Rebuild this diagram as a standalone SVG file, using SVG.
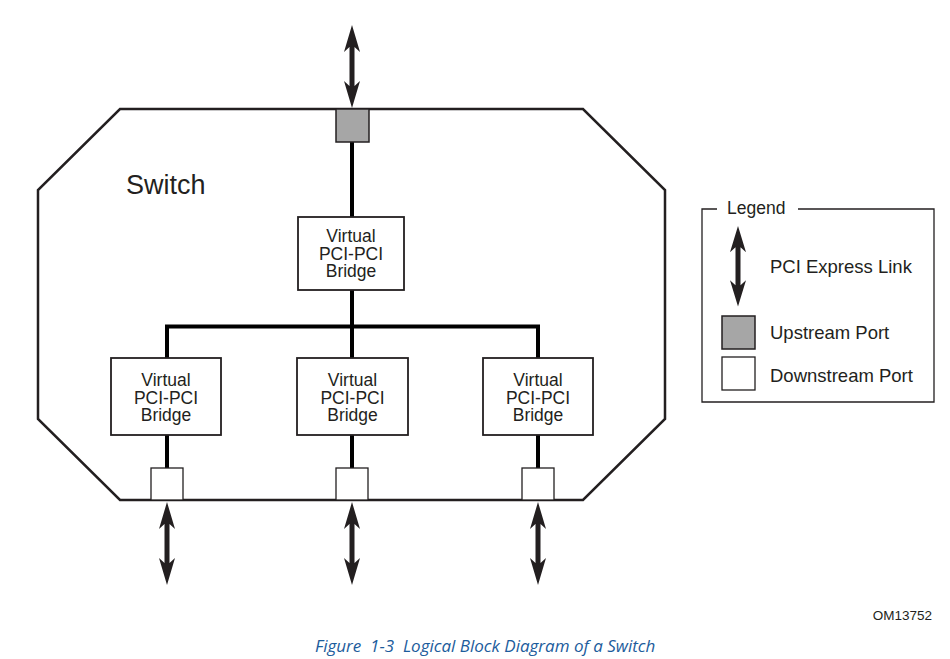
<svg xmlns="http://www.w3.org/2000/svg" xmlns:xlink="http://www.w3.org/1999/xlink" width="950" height="659" viewBox="0 0 950 659">
  <style>
    .outline { fill: none; stroke: #231f20; stroke-width: 2.5; stroke-linejoin: miter; }
    .box { fill: #ffffff; stroke: #231f20; stroke-width: 1.8; }
    .wire { fill: none; stroke: #000000; stroke-width: 4; }
    .up { fill: #a6a6a6; stroke: #231f20; stroke-width: 1.5; }
    .down { fill: #ffffff; stroke: #231f20; stroke-width: 1.3; }
    .link { fill: #231f20; }
    .label { font-family: "Liberation Sans", Arial, sans-serif; fill: #231f20; }
    .bridge { font-size: 17.5px; text-anchor: middle; }
    .legend { font-size: 18.5px; }
    .caption { font-family: "Open Sans", "Liberation Sans", sans-serif; font-style: italic; font-size: 17px; fill: #1c5c9c; }
  </style>
  <defs>
    <!-- double-headed PCI Express link, drawn from y=0 down to y=83 -->
    <path id="link" class="link" d="M0,0 L8,27 L2.5,22 L2.5,61 L8,56 L0,83 L-8,56 L-2.5,61 L-2.5,22 L-8,27 Z"/>
  </defs>

  <!-- switch outline -->
  <g id="switch">
    <polygon class="outline" points="120,109 583,109 665,190 665,419 583,500 120,500 38,419 38,190"/>
    <text class="label" x="126" y="194" font-size="27">Switch</text>
  </g>

  <!-- connectors -->
  <g id="connectors">
    <line class="wire" x1="352" y1="142" x2="352" y2="217"/>
    <line class="wire" x1="352" y1="290" x2="352" y2="358"/>
    <polyline class="wire" points="167,358 167,326.5 538,326.5 538,358"/>
    <line class="wire" x1="167" y1="435" x2="167" y2="468"/>
    <line class="wire" x1="352" y1="435" x2="352" y2="468"/>
    <line class="wire" x1="538" y1="435" x2="538" y2="468"/>
    <use xlink:href="#link" x="352" y="25"/>
    <use xlink:href="#link" x="167" y="502"/>
    <use xlink:href="#link" x="352" y="502"/>
    <use xlink:href="#link" x="538" y="502"/>
  </g>

  <!-- ports -->
  <g id="upstream-port">
    <rect class="up" x="336" y="109" width="33" height="33"/>
  </g>
  <g id="downstream-port-1">
    <rect class="down" x="151" y="468" width="32" height="32"/>
  </g>
  <g id="downstream-port-2">
    <rect class="down" x="336" y="468" width="32" height="32"/>
  </g>
  <g id="downstream-port-3">
    <rect class="down" x="522" y="468" width="32" height="32"/>
  </g>

  <!-- virtual bridges -->
  <g id="bridge-up">
    <rect class="box" x="298" y="217" width="106" height="73"/>
    <text class="label bridge" x="351" y="242">Virtual</text>
    <text class="label bridge" x="351" y="259.5">PCI-PCI</text>
    <text class="label bridge" x="351" y="277">Bridge</text>
  </g>
  <g id="bridge-down-1">
    <rect class="box" x="111" y="358" width="110" height="77"/>
    <text class="label bridge" x="166" y="386">Virtual</text>
    <text class="label bridge" x="166" y="403.5">PCI-PCI</text>
    <text class="label bridge" x="166" y="421">Bridge</text>
  </g>
  <g id="bridge-down-2">
    <rect class="box" x="297" y="358" width="111" height="77"/>
    <text class="label bridge" x="352.5" y="386">Virtual</text>
    <text class="label bridge" x="352.5" y="403.5">PCI-PCI</text>
    <text class="label bridge" x="352.5" y="421">Bridge</text>
  </g>
  <g id="bridge-down-3">
    <rect class="box" x="483" y="358" width="110" height="77"/>
    <text class="label bridge" x="538" y="386">Virtual</text>
    <text class="label bridge" x="538" y="403.5">PCI-PCI</text>
    <text class="label bridge" x="538" y="421">Bridge</text>
  </g>

  <!-- legend -->
  <g id="legend">
    <path d="M717,209 L702,209 L702,402 L934,402 L934,209 L798,209" fill="none" stroke="#231f20" stroke-width="1.3"/>
    <text class="label" x="727" y="214" font-size="17.5">Legend</text>
    <use xlink:href="#link" x="738" y="226" transform="translate(738 226) scale(1 0.97) translate(-738 -226)"/>
    <text class="label legend" x="770" y="273">PCI Express Link</text>
    <rect class="up" x="722" y="316" width="33" height="33"/>
    <text class="label legend" x="770" y="339">Upstream Port</text>
    <rect class="down" x="722" y="357" width="33" height="33"/>
    <text class="label legend" x="770" y="382">Downstream Port</text>
  </g>

  <text class="label" x="932" y="620" font-size="13.5" text-anchor="end">OM13752</text>
  <text class="caption" x="315" y="652">Figure&#160; 1-3&#160; Logical Block Diagram of a Switch</text>
</svg>
